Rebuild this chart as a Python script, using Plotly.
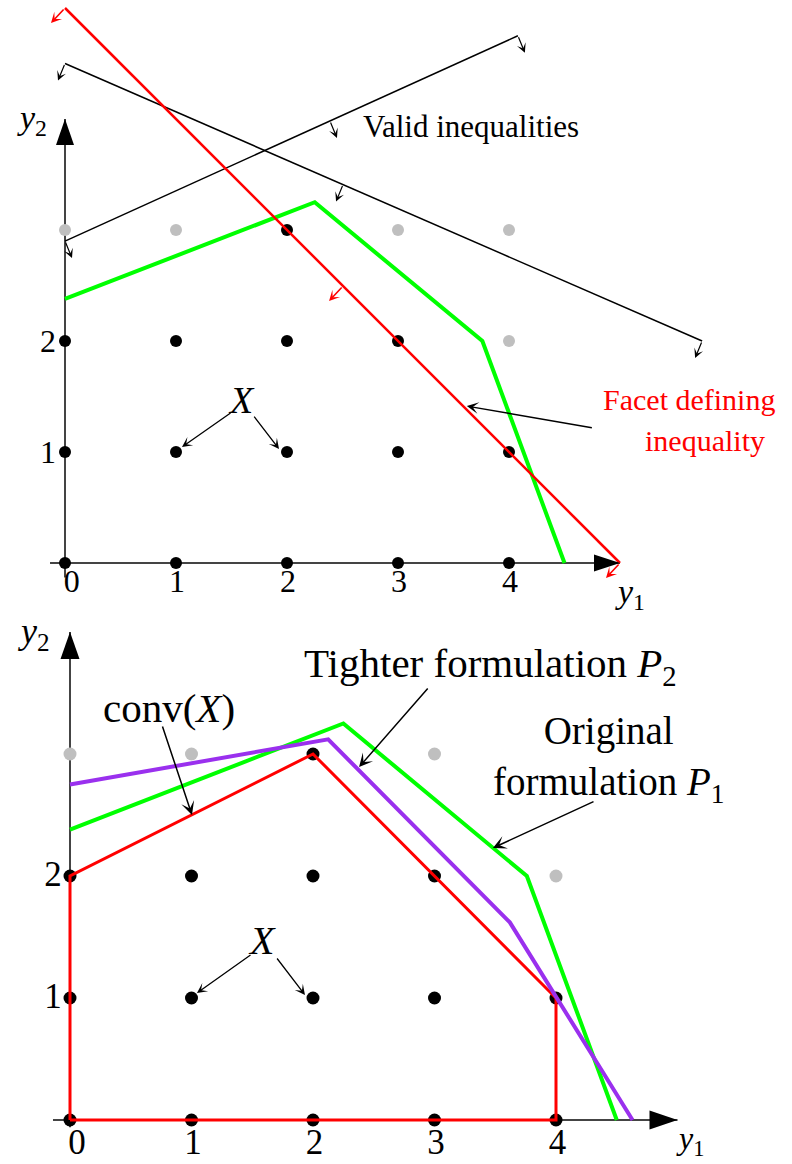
import plotly.graph_objects as go

# ------------------------------------------------------------------ data
tick_vals = [0, 1, 2, 3, 4]
ytick_vals = [1, 2]

# integer points (top panel)
top_black_x = [0, 1, 2, 3, 4, 0, 1, 2, 3, 4, 0, 1, 2, 3, 2]
top_black_y = [0, 0, 0, 0, 0, 1, 1, 1, 1, 1, 2, 2, 2, 2, 3]
top_gray_x = [4, 0, 1, 3, 4]
top_gray_y = [2, 3, 3, 3, 3]

# integer points (bottom panel)
bot_black_x = [0, 1, 2, 3, 4, 0, 1, 2, 3, 4, 0, 1, 2, 3, 2]
bot_black_y = [0, 0, 0, 0, 0, 1, 1, 1, 1, 1, 2, 2, 2, 2, 3]
bot_gray_x = [4, 0, 1, 3]
bot_gray_y = [2, 3, 3, 3]

# original formulation P1 (green)
p1_x = [0, 2.25, 3.76, 4.5]
p1_y = [2.38, 3.25, 2.0, 0]
# facet defining inequality  y1 + y2 <= 5 (red, top)
facet_x = [0, 5]
facet_y = [5, 0]
# valid inequalities (black, top)
valid1_x = [0, 5.74]
valid1_y = [4.5, 2.0]
valid2_x = [0, 4.08]
valid2_y = [2.9, 4.75]
# conv(X) (red, bottom)
conv_x = [0, 0, 2, 4, 4, 0]
conv_y = [0, 2, 3, 1, 0, 0]
# tighter formulation P2 (purple)
p2_x = [0, 2.125, 3.62, 4.63]
p2_y = [2.75, 3.12, 1.62, 0]

# ------------------------------------------------------------------ layout constants
W, H, SPLIT = 792, 1164, 612
TOP = dict(ox=65, oy=563, sx=111, sy=111)
BOT = dict(ox=70, oy=1120, sx=121.5, sy=122)
SERIF = "Liberation Serif"
GREEN = "#00ff00"
RED = "#ff0000"
PURPLE = "#9a30ee"
GRAY = "#bfbfbf"
AXIS = "#444444"

fig = go.Figure()


def add_line(xs, ys, xa, ya, color, width):
    fig.add_trace(go.Scatter(x=xs, y=ys, xaxis=xa, yaxis=ya, mode="lines",
                             line=dict(color=color, width=width),
                             hoverinfo="skip", showlegend=False, cliponaxis=False))


def add_pts(xs, ys, xa, ya, color, size):
    fig.add_trace(go.Scatter(x=xs, y=ys, xaxis=xa, yaxis=ya, mode="markers",
                             marker=dict(color=color, size=size, line=dict(width=0)),
                             hoverinfo="skip", showlegend=False, cliponaxis=False))


def add_text(xs, ys, texts, xa, ya, size):
    fig.add_trace(go.Scatter(x=xs, y=ys, xaxis=xa, yaxis=ya, mode="text",
                             text=texts, textposition="middle center",
                             textfont=dict(family=SERIF, size=size, color="black"),
                             hoverinfo="skip", showlegend=False, cliponaxis=False))


annotations = []
shapes = []


def arrow(xr, yr, tail, tip, color="black", width=1.3, size=1.2, head=3):
    annotations.append(dict(x=tip[0], y=tip[1], ax=tail[0], ay=tail[1],
                            xref=xr, yref=yr, axref=xr, ayref=yr, text="",
                            showarrow=True, arrowhead=head, arrowsize=size,
                            arrowwidth=width, arrowcolor=color, standoff=0))


def tick(xr, yr, P, pt, off, color="black", width=1.2, size=1.3):
    tip = (pt[0] + off[0] / P["sx"], pt[1] - off[1] / P["sy"])
    arrow(xr, yr, pt, tip, color=color, width=width, size=size)


def label(xr, yr, x, y, text, size, color="black"):
    annotations.append(dict(x=x, y=y, xref=xr, yref=yr, text=text, showarrow=False,
                            font=dict(family=SERIF, size=size, color=color),
                            xanchor="center", yanchor="middle"))


def axis_head(xr, yr, x, y, direction, L, Wd):
    if direction == "up":
        path = f"M0,0 L{-Wd/2},{-L} L{Wd/2},{-L} Z"
    else:
        path = f"M0,0 L{-L},{Wd/2} L{-L},{-Wd/2} Z"
    shapes.append(dict(type="path", xref=xr, yref=yr, xsizemode="pixel",
                       ysizemode="pixel", xanchor=x, yanchor=y, path=path,
                       fillcolor="black", line=dict(width=0), layer="above"))


# ================================================================== TOP PANEL
xa, ya = "x", "y"
# axes
add_line([-0.135, 5.0], [0, 0], xa, ya, AXIS, 2)
add_line([0, 0], [-0.13, 4.0], xa, ya, AXIS, 2)
axis_head(xa, ya, 5.0, 0, "right", 26, 17)
axis_head(xa, ya, 0, 4.0, "up", 26, 18)
# points
add_pts(top_gray_x, top_gray_y, xa, ya, GRAY, 12)
add_pts(top_black_x, top_black_y, xa, ya, "black", 12)
# lines
add_line(valid1_x, valid1_y, xa, ya, "black", 1.5)
add_line(valid2_x, valid2_y, xa, ya, "black", 1.5)
add_line(p1_x, p1_y, xa, ya, GREEN, 4)
add_line(facet_x, facet_y, xa, ya, RED, 2.5)

# direction ticks on valid inequalities
s1 = (valid1_y[1] - valid1_y[0]) / (valid1_x[1] - valid1_x[0])
s2 = (valid2_y[1] - valid2_y[0]) / (valid2_x[1] - valid2_x[0])
for xv in [valid1_x[0], 2.505, valid1_x[1]]:
    tick(xa, ya, TOP, (xv, valid1_y[0] + s1 * xv), (-7, 17))
for xv in [valid2_x[0], 2.387, valid2_x[1]]:
    tick(xa, ya, TOP, (xv, valid2_y[0] + s2 * xv), (7, 17))
# direction ticks on facet inequality
for xv in [facet_x[0], 2.505, facet_x[1]]:
    tick(xa, ya, TOP, (xv, facet_y[0] - xv), (-14, 15), color=RED, width=1.6, size=1.1)

# tick labels
add_text([v + (0.06 if v == 0 else 0.01) for v in tick_vals], [-0.19] * 5,
         [str(v) for v in tick_vals], xa, ya, 32)
add_text([-0.153] * 2, [v - 0.025 for v in ytick_vals],
         [str(v) for v in ytick_vals], xa, ya, 32)
label(xa, ya, -0.297, 3.99, "<i>y</i><sub>2</sub>", 34)
label(xa, ya, 5.09, -0.28, "<i>y</i><sub>1</sub>", 34)

label(xa, ya, 3.66, 3.93, "Valid inequalities", 31)
label(xa, ya, 5.62, 1.47, "Facet defining", 30, RED)
label(xa, ya, 5.77, 1.10, "inequality", 30, RED)
arrow(xa, ya, (4.76, 1.216), (3.62, 1.414), width=1.4, size=1.4)

label(xa, ya, 1.586, 1.468, "<i>X</i>", 38)
arrow(xa, ya, (1.505, 1.36), (1.054, 1.045), width=1.3, size=1.3)
arrow(xa, ya, (1.694, 1.333), (1.928, 1.027), width=1.3, size=1.3)

# ================================================================== BOTTOM PANEL
xa, ya = "x2", "y2"
add_line([-0.14, 5.0], [0, 0], xa, ya, AXIS, 2)
add_line([0, 0], [-0.06, 4.0], xa, ya, AXIS, 2)
axis_head(xa, ya, 5.0, 0, "right", 28, 19)
axis_head(xa, ya, 0, 4.0, "up", 27, 19)
add_pts(bot_gray_x, bot_gray_y, xa, ya, GRAY, 13)
add_pts(bot_black_x, bot_black_y, xa, ya, "black", 13)
add_line(conv_x, conv_y, xa, ya, RED, 3)
add_line(p1_x, p1_y, xa, ya, GREEN, 4)
add_line(p2_x, p2_y, xa, ya, PURPLE, 4)

add_text([v + (0.058 if v == 0 else 0.013) for v in tick_vals], [-0.205] * 5,
         [str(v) for v in tick_vals], xa, ya, 35)
add_text([-0.14] * 2, [v - 0.013 for v in ytick_vals],
         [str(v) for v in ytick_vals], xa, ya, 35)
label(xa, ya, -0.296, 3.984, "<i>y</i><sub>2</sub>", 36)
label(xa, ya, 5.103, -0.17, "<i>y</i><sub>1</sub>", 32)

label(xa, ya, 0.815, 3.377, "conv(<i>X</i>)", 41)
arrow(xa, ya, (0.757, 3.238), (1.004, 2.5), width=1.5, size=1.5)
label(xa, ya, 3.457, 3.721, "Tighter formulation <i>P</i><sub>2</sub>", 41)
arrow(xa, ya, (2.955, 3.549), (2.379, 2.893), width=1.5, size=1.5)
label(xa, ya, 4.43, 2.955, "Original<br>formulation <i>P</i><sub>1</sub>", 39)
arrow(xa, ya, (4.321, 2.615), (3.481, 2.23), width=1.5, size=1.5)

label(xa, ya, 1.58, 1.475, "<i>X</i>", 40)
arrow(xa, ya, (1.498, 1.361), (1.045, 1.041), width=1.3, size=1.3)
arrow(xa, ya, (1.695, 1.336), (1.934, 1.025), width=1.3, size=1.3)

# ------------------------------------------------------------------ axes / layout
f_split = 1 - SPLIT / H
hidden = dict(visible=False, showgrid=False, zeroline=False, fixedrange=True)
fig.update_layout(
    width=W, height=H, margin=dict(l=0, r=0, t=0, b=0),
    paper_bgcolor="white", plot_bgcolor="white", showlegend=False,
    xaxis=dict(domain=[0, 1], anchor="y",
               range=[-TOP["ox"] / TOP["sx"], (W - TOP["ox"]) / TOP["sx"]], **hidden),
    yaxis=dict(domain=[f_split, 1], anchor="x",
               range=[(TOP["oy"] - SPLIT) / TOP["sy"], TOP["oy"] / TOP["sy"]], **hidden),
    xaxis2=dict(domain=[0, 1], anchor="y2",
                range=[-BOT["ox"] / BOT["sx"], (W - BOT["ox"]) / BOT["sx"]], **hidden),
    yaxis2=dict(domain=[0, f_split], anchor="x2",
                range=[(BOT["oy"] - H) / BOT["sy"], (BOT["oy"] - SPLIT) / BOT["sy"]], **hidden),
    annotations=annotations, shapes=shapes,
)

fig.write_html("out.html", config={"displayModeBar": False},
               post_script="document.body.style.margin='0';")
